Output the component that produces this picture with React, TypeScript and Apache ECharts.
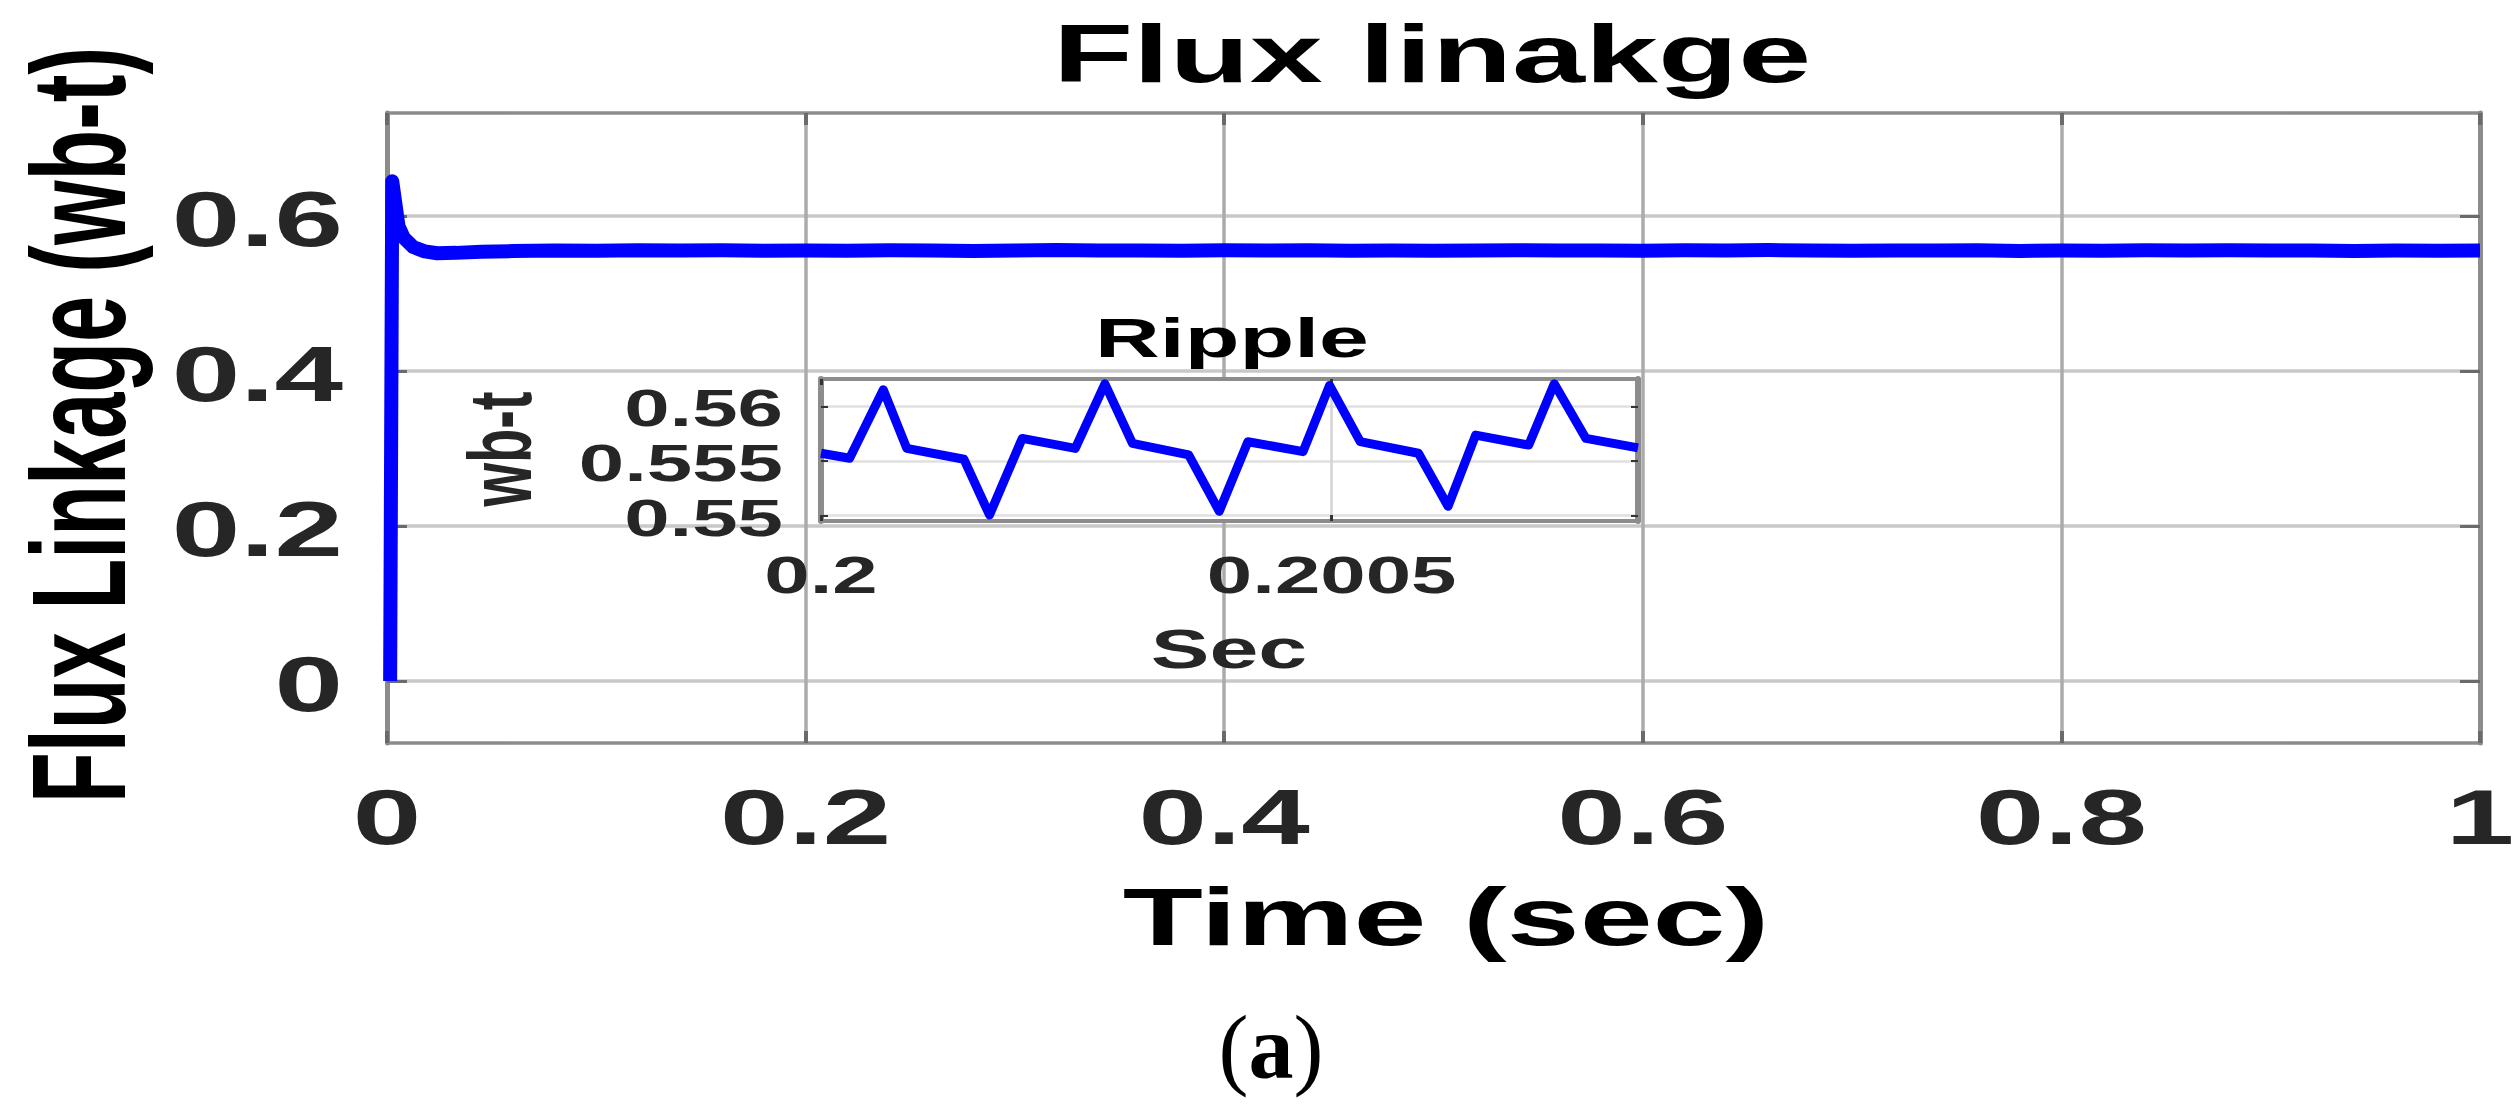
import React, { useEffect, useRef } from 'react';
import * as echarts from 'echarts';

// ---------------- data ----------------
const fluxTime = [
  0.0015, 0.0025, 0.0055, 0.008, 0.0125, 0.018, 0.024, 0.033, 0.045, 0.06,
  0.08, 0.1, 0.12, 0.14, 0.16, 0.18, 0.2, 0.22, 0.24, 0.26,
  0.28, 0.3, 0.32, 0.34, 0.36, 0.38, 0.4, 0.42, 0.44, 0.46,
  0.48, 0.5, 0.52, 0.54, 0.56, 0.58, 0.6, 0.62, 0.64, 0.66,
  0.68, 0.7, 0.72, 0.74, 0.76, 0.78, 0.8, 0.82, 0.84, 0.86,
  0.88, 0.9, 0.92, 0.94, 0.96, 0.98, 1.0,
];
const fluxValue = [
  0, 0.645, 0.587, 0.572, 0.56, 0.5545, 0.552, 0.5525, 0.554, 0.5548,
  0.5556, 0.5552, 0.556, 0.5554, 0.5558, 0.5551, 0.5557, 0.5553, 0.5559, 0.5555,
  0.555, 0.5556, 0.5561, 0.5554, 0.5557, 0.5552, 0.5558, 0.5555, 0.556, 0.5553,
  0.5557, 0.5551, 0.5556, 0.5559, 0.5554, 0.5557, 0.5553, 0.5558, 0.5555, 0.5561,
  0.5556, 0.5552, 0.5557, 0.5554, 0.5559, 0.555, 0.5556, 0.5553, 0.5558, 0.5555,
  0.556, 0.5554, 0.5557, 0.5549, 0.5556, 0.5553, 0.5556,
];

const rippleTime = [
  0.2, 0.200028, 0.200061, 0.200084, 0.20014, 0.200165, 0.200197, 0.200249,
  0.200278, 0.200305, 0.20036, 0.20039, 0.200418, 0.200472, 0.200498, 0.200528,
  0.200585, 0.200614, 0.200641, 0.200693, 0.200718, 0.200749, 0.2008,
];
const rippleValue = [
  0.5557, 0.55525, 0.56152, 0.55615, 0.55515, 0.55005, 0.55706, 0.55615,
  0.56206, 0.55661, 0.55555, 0.55039, 0.55676, 0.55585, 0.56191, 0.55676,
  0.5557, 0.55085, 0.55736, 0.55645, 0.56206, 0.55706, 0.5562,
];

const xTickValues = [0, 0.2, 0.4, 0.6, 0.8, 1];
const xTickLabels = ['0', '0.2', '0.4', '0.6', '0.8', '1'];
const yTickValues = [0, 0.2, 0.4, 0.6];
const yTickLabels = ['0', '0.2', '0.4', '0.6'];
const insetXTickValues = [0.2, 0.2005];
const insetXTickLabels = ['0.2', '0.2005'];
const insetYTickValues = [0.55, 0.555, 0.56];
const insetYTickLabels = ['0.55', '0.555', '0.56'];

const titleText = 'Flux linakge';
const xNameText = 'Time (sec)';
const yNameText = 'Flux Linkage (wb-t)';
const insetTitleText = 'Ripple';
const insetXNameText = 'Sec';
const insetYNameText = 'wb-t';

// ---------------- styling ----------------
const FONT = '"Liberation Sans", Arial, Helvetica, sans-serif';
const SERIF = '"Liberation Serif", "Times New Roman", serif';
const SX = 1.6; // the reference figure is stretched horizontally
const BORDER = '#8c8c8c';
const TICK = '#6a6a6a';
const LABEL = '#262626';

function mkAxis(extra: any, lineW: number, tickLen: number, tickW: number, split: any) {
  return {
    type: 'value',
    axisLine: { show: true, onZero: false, lineStyle: { color: BORDER, width: lineW } },
    axisTick: { show: true, inside: true, length: tickLen, lineStyle: { color: TICK, width: tickW } },
    axisLabel: { show: false },
    splitLine: split ? { show: true, lineStyle: split } : { show: false },
    ...extra,
  };
}

function txt(text: string, x: number, y: number, size: number, opts: any = {}) {
  const align = opts.align || 'center';
  return {
    type: 'text',
    x,
    y,
    rotation: opts.rotation || 0,
    scaleX: opts.rotation ? 1 : SX,
    scaleY: opts.rotation ? SX : 1,
    z: 100,
    silent: true,
    style: {
      text,
      fill: opts.fill || '#000000',
      fontSize: size,
      fontWeight: 'bold',
      fontFamily: FONT,
      align,
      verticalAlign: 'middle',
      textAlign: align,
      textVerticalAlign: 'middle',
    },
  };
}

export default function App() {
  const ref = useRef<HTMLDivElement>(null);

  useEffect(() => {
    if (!ref.current) return;
    const chart = echarts.init(ref.current, undefined, { renderer: 'svg' });

    const mainData = fluxTime.map((t, i) => [t, fluxValue[i]]);
    const rippleData = rippleTime.map((t, i) => [t, rippleValue[i]]);

    const yMin = -0.08;
    const yMax = 0.733;
    const iyMin = 0.5495;
    const iyMax = 0.5625;

    const option: any = {
      animation: false,
      backgroundColor: '#ffffff',
      grid: [
        { left: 387, top: 113, right: 40, bottom: 361, show: false },
        {
          left: 821, top: 379, width: 817, height: 142,
          show: true, backgroundColor: '#ffffff', borderWidth: 0, z: 3,
        },
      ],
      xAxis: [
        mkAxis({ gridIndex: 0, min: 0, max: 1, interval: 0.2, position: 'bottom', z: 0 },
          3.5, 12, 4, { color: '#ababab', width: 3.5 }),
        mkAxis({ gridIndex: 0, min: 0, max: 1, interval: 0.2, position: 'top', z: 0 },
          3.5, 12, 4, null),
        mkAxis({
          gridIndex: 1, min: 0.2, max: 0.2008, position: 'bottom', z: 4,
          axisTick: { show: true, inside: true, length: 6, customValues: insetXTickValues, lineStyle: { color: '#333', width: 3 } },
          axisLabel: { show: false, customValues: insetXTickValues },
        }, 4, 6, 3, { color: '#d4d4d4', width: 2.5 }),
        mkAxis({
          gridIndex: 1, min: 0.2, max: 0.2008, position: 'top', z: 4,
          axisTick: { show: true, inside: true, length: 6, customValues: insetXTickValues, lineStyle: { color: '#333', width: 3 } },
          axisLabel: { show: false, customValues: insetXTickValues },
        }, 4, 6, 3, null),
      ],
      yAxis: [
        mkAxis({
          gridIndex: 0, min: yMin, max: yMax, position: 'left', z: 0,
          axisTick: { show: true, inside: true, length: 20, customValues: yTickValues, lineStyle: { color: TICK, width: 3 } },
          axisLabel: { show: false, customValues: yTickValues },
        }, 5, 20, 3, { color: '#c8c8c8', width: 3.5 }),
        mkAxis({
          gridIndex: 0, min: yMin, max: yMax, position: 'right', z: 0,
          axisTick: { show: true, inside: true, length: 20, customValues: yTickValues, lineStyle: { color: TICK, width: 3 } },
          axisLabel: { show: false, customValues: yTickValues },
        }, 5, 20, 3, null),
        mkAxis({
          gridIndex: 1, min: iyMin, max: iyMax, position: 'left', z: 4,
          axisTick: { show: true, inside: true, length: 7, customValues: insetYTickValues, lineStyle: { color: '#333', width: 2 } },
          axisLabel: { show: false, customValues: insetYTickValues },
        }, 6, 7, 2, { color: '#e0e0e0', width: 2.5 }),
        mkAxis({
          gridIndex: 1, min: iyMin, max: iyMax, position: 'right', z: 4,
          axisTick: { show: true, inside: true, length: 7, customValues: insetYTickValues, lineStyle: { color: '#333', width: 2 } },
          axisLabel: { show: false, customValues: insetYTickValues },
        }, 6, 7, 2, null),
      ],
      series: [
        {
          type: 'line', xAxisIndex: 0, yAxisIndex: 0, data: mainData,
          symbol: 'none', showSymbol: false, clip: true, z: 2,
          lineStyle: { color: '#0000ff', width: 14, join: 'round' },
        },
        {
          type: 'line', xAxisIndex: 2, yAxisIndex: 2, data: rippleData,
          symbol: 'none', showSymbol: false, clip: true, z: 6,
          lineStyle: { color: '#0000ff', width: 9, join: 'round' },
        },
      ],
    };

    chart.setOption(option);

    const px = (idx: number, v: number) => chart.convertToPixel({ xAxisIndex: idx } as any, v) as unknown as number;
    const py = (idx: number, v: number) => chart.convertToPixel({ yAxisIndex: idx } as any, v) as unknown as number;

    const elements: any[] = [];
    // titles and axis names
    elements.push(txt(titleText, 1432, 54, 82));
    elements.push(txt(xNameText, 1446, 917, 82));
    elements.push(txt(yNameText, 79, 425, 83, { rotation: Math.PI / 2 }));
    elements.push(txt(insetTitleText, 1232, 338, 56));
    elements.push(txt(insetXNameText, 1229, 649, 55, { fill: LABEL }));
    elements.push(txt(insetYNameText, 500, 449, 56, { rotation: Math.PI / 2, fill: LABEL }));

    // main tick labels
    xTickValues.forEach((v, i) => {
      elements.push(txt(xTickLabels[i], px(0, v), 817, 77, { fill: LABEL }));
    });
    yTickValues.forEach((v, i) => {
      elements.push(txt(yTickLabels[i], 343, py(0, v) + 3, 77, { fill: LABEL, align: 'right' }));
    });
    // inset tick labels
    insetXTickValues.forEach((v, i) => {
      elements.push(txt(insetXTickLabels[i], px(2, v), 575, 51, { fill: LABEL }));
    });
    insetYTickValues.forEach((v, i) => {
      elements.push(txt(insetYTickLabels[i], 783, py(2, v) + 2, 51, { fill: LABEL, align: 'right' }));
    });

    // caption
    elements.push({
      type: 'text',
      x: 1271,
      y: 1047,
      z: 100,
      silent: true,
      style: {
        text: '{p|(}{b|a}{p|)}',
        align: 'center',
        verticalAlign: 'middle',
        textAlign: 'center',
        textVerticalAlign: 'middle',
        rich: {
          p: { fontFamily: SERIF, fontSize: 90, fontWeight: 'normal', fill: '#000000' },
          b: { fontFamily: SERIF, fontSize: 90, fontWeight: 'bold', fill: '#000000' },
        },
      },
    });

    chart.setOption({ graphic: { elements } });

    return () => {
      chart.dispose();
    };
  }, []);

  return (
    <div
      ref={ref}
      style={{ position: 'absolute', left: 0, top: 0, width: 2520, height: 1104, background: '#ffffff' }}
    />
  );
}
